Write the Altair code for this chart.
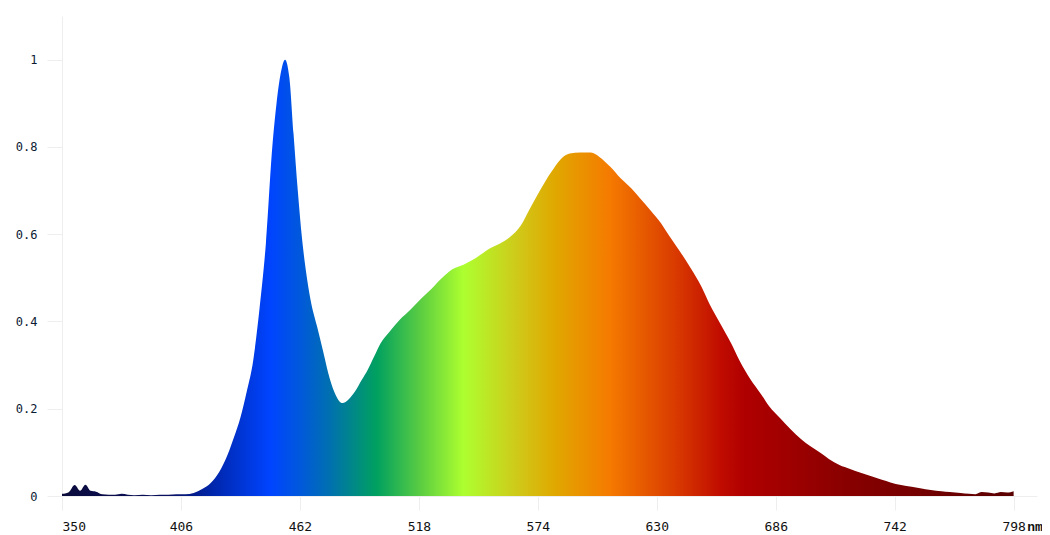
import altair as alt
import pandas as pd

wavelength = [350, 353, 356, 358.5, 361, 363.5, 366, 369, 372, 375, 378, 381, 384, 388, 392, 396,
              400, 404, 408, 412, 416, 420, 424, 428, 431, 434, 437, 440, 443, 446, 449, 451,
              453, 455, 457, 459, 461, 463, 465, 467, 470, 473, 476, 479, 482, 485, 488, 491,
              494, 497, 500, 504, 509, 514, 519, 524, 529, 534, 539, 543, 547, 552, 556, 561,
              566, 570, 575, 580, 585, 589, 594, 599, 603, 608, 613, 618, 622, 627, 632, 636,
              641, 646, 651, 655, 660, 665, 669, 674, 679, 683, 688, 693, 698, 702, 707, 711,
              716, 721, 726, 731, 736, 740, 745, 750, 754, 759, 764, 768, 773, 777, 780, 783,
              786, 789, 792, 795, 798]
intensity = [0.005, 0.008, 0.025, 0.012, 0.026, 0.012, 0.010, 0.004, 0.003, 0.003, 0.005, 0.003,
             0.002, 0.003, 0.002, 0.003, 0.003, 0.004, 0.004, 0.007, 0.016, 0.030, 0.055, 0.095,
             0.135, 0.180, 0.240, 0.310, 0.430, 0.580, 0.800, 0.900, 0.970, 1.000, 0.960, 0.830,
             0.700, 0.590, 0.510, 0.450, 0.390, 0.330, 0.270, 0.230, 0.213, 0.222, 0.240, 0.265,
             0.290, 0.320, 0.350, 0.375, 0.404, 0.427, 0.452, 0.475, 0.500, 0.520, 0.530, 0.540,
             0.553, 0.569, 0.578, 0.594, 0.620, 0.656, 0.700, 0.740, 0.773, 0.785, 0.787, 0.787,
             0.777, 0.755, 0.728, 0.705, 0.683, 0.655, 0.625, 0.595, 0.560, 0.522, 0.480, 0.438,
             0.394, 0.350, 0.310, 0.268, 0.234, 0.205, 0.179, 0.153, 0.130, 0.115, 0.099, 0.085,
             0.071, 0.062, 0.053, 0.045, 0.037, 0.031, 0.025, 0.021, 0.018, 0.014, 0.011, 0.009,
             0.007, 0.005, 0.004, 0.009, 0.008, 0.006, 0.009, 0.008, 0.011]

x_ticks = [350, 406, 462, 518, 574, 630, 686, 742, 798]
y_ticks = [0, 0.2, 0.4, 0.6, 0.8, 1]

# colour stops along the wavelength axis (nm, colour)
stop_nm = [350, 400, 420, 448, 462, 476, 498, 520, 539, 565, 582, 608, 640, 660, 671, 720, 798]
stop_col = ["#0b0b3b", "#0a1060", "#0025a8", "#0044ff", "#0058dc", "#0070b0", "#00a060",
            "#60d040", "#adff2f", "#d0c818", "#e0a800", "#f57a00", "#d83800", "#c00c00",
            "#b00000", "#880000", "#5a0000"]

df = pd.DataFrame({"nm": wavelength, "v": intensity})

span = stop_nm[-1] - stop_nm[0]
grad = alt.Gradient(
    gradient="linear",
    stops=[alt.GradientStop(color=c, offset=(n - stop_nm[0]) / span) for n, c in zip(stop_nm, stop_col)],
    x1=0, x2=1, y1=0, y2=0,
)

area = alt.Chart(df).mark_area(color=grad, interpolate="monotone").encode(
    x=alt.X("nm:Q", scale=alt.Scale(domain=[350, 809], nice=False, zero=False),
            axis=alt.Axis(values=x_ticks, tickSize=14, labelPadding=10, labelColor="#111111",
                          labelFontSize=13, labelFont="DejaVu Sans Mono", domainColor="#eeeeee",
                          tickColor="#eeeeee", grid=False, title=None)),
    y=alt.Y("v:Q", scale=alt.Scale(domain=[0, 1.1], nice=False),
            axis=alt.Axis(values=y_ticks, format="~g", tickSize=15, labelPadding=10,
                          labelColor="#0b1a33", labelFontSize=12, labelFont="DejaVu Sans Mono",
                          domainColor="#eeeeee", tickColor="#eeeeee", grid=False, title=None)),
)

unit = alt.Chart(pd.DataFrame({"t": ["nm"]})).mark_text(
    font="Liberation Mono", fontSize=13, fontWeight="bold", color="#111111", align="center",
    baseline="middle"
).encode(text="t:N", x=alt.value(973), y=alt.value(511))

chart = (area + unit).properties(
    width=975, height=480,
    background="white",
    autosize=alt.AutoSizeParams(type="none"),
    padding={"left": 54, "top": 8, "right": 5, "bottom": 40},
).configure_view(strokeWidth=0)

chart.save("out.html", embed_options={"renderer": "svg", "actions": False})
